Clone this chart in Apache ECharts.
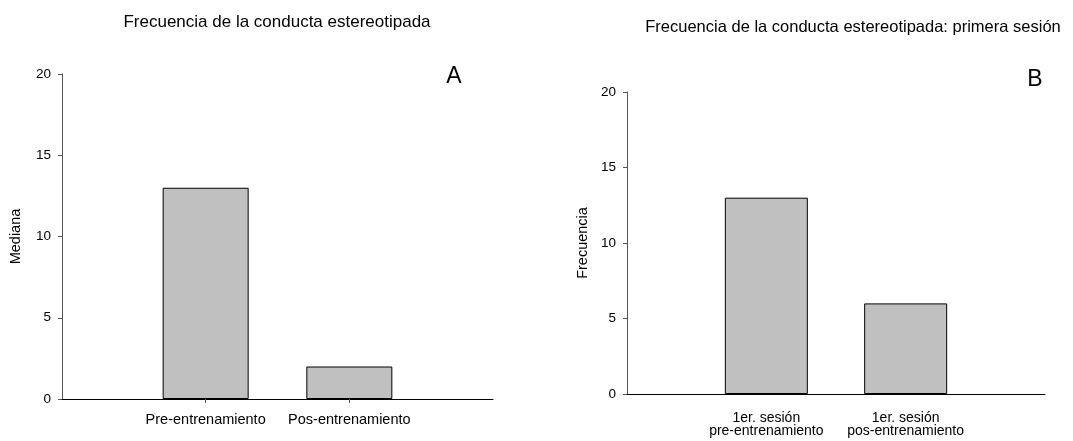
<!DOCTYPE html>
<html><head><meta charset="utf-8">
<script src="https://cdn.jsdelivr.net/npm/echarts@6/dist/echarts.min.js"></script>
<style>html,body{margin:0;padding:0;background:#fff}#c{width:1073px;height:441px}</style>
</head><body><div id="c"></div>
<script>
const categoriesA = ['', 'Pre-entrenamiento', 'Pos-entrenamiento', ''];
const valuesA = [null, 13, 2, null];
const categoriesB = ['', '1er. sesión\npre-entrenamiento', '1er. sesión\npos-entrenamiento', ''];
const valuesB = [null, 13, 6, null];
const yTicks = [0, 5, 10, 15, 20];

const font = 'Liberation Sans, Arial, sans-serif';
const chart = echarts.init(document.getElementById('c'));
function yAxis(gi, name) {
  return {
    type: 'value', gridIndex: gi, min: yTicks[0], max: yTicks[yTicks.length-1], interval: 5,
    name: name, nameLocation: 'middle', nameGap: gi === 0 ? 39 : 37, nameRotate: 90,
    nameTextStyle: {fontFamily: font, color: '#000', fontSize: 14.5},
    axisLine: {show: true, lineStyle: {color: '#555', width: 1}},
    axisTick: {show: true, length: 4, lineStyle: {color: '#555'}},
    axisLabel: {fontFamily: font, color: '#000', fontSize: 13.5, margin: 11},
    splitLine: {show: false}
  };
}
function xAxis(gi, cats, ticks) {
  return {
    type: 'category', gridIndex: gi, data: cats, boundaryGap: false,
    axisLine: {show: true, lineStyle: {color: '#000', width: 1}},
    axisTick: {show: ticks, length: 4, interval: (i) => i === 1 || i === 2, lineStyle: {color: '#555'}},
    axisLabel: {fontFamily: font, color: '#000', fontSize: gi === 0 ? 14.5 : 14, margin: gi === 0 ? 14 : 17,
      lineHeight: 13.5, interval: 0},
    splitLine: {show: false}
  };
}
chart.setOption({
  animation: false,
  title: [
    {text: 'Frecuencia de la conducta estereotipada', left: 272, top: 9, textAlign: 'center',
      textStyle: {fontFamily: font, fontWeight: 'normal', fontSize: 17, color: '#000'}},
    {text: 'Frecuencia de la conducta estereotipada: primera sesión', left: 848, top: 14, textAlign: 'center',
      textStyle: {fontFamily: font, fontWeight: 'normal', fontSize: 16.5, color: '#000'}},
    {text: 'A', left: 449, top: 60, textAlign: 'center',
      textStyle: {fontFamily: font, fontWeight: 'normal', fontSize: 23, color: '#000'}},
    {text: 'B', left: 1030, top: 63, textAlign: 'center',
      textStyle: {fontFamily: font, fontWeight: 'normal', fontSize: 23, color: '#000'}}
  ],
  grid: [
    {left: 62, right: 580, top: 74, bottom: 42},
    {left: 627, right: 28, top: 92, bottom: 47}
  ],
  xAxis: [xAxis(0, categoriesA, true), xAxis(1, categoriesB, false)],
  yAxis: [yAxis(0, 'Mediana'), yAxis(1, 'Frecuencia')],
  series: [
    {type: 'bar', xAxisIndex: 0, yAxisIndex: 0, data: valuesA, barWidth: 86,
      itemStyle: {color: '#c0c0c0', borderColor: '#000', borderWidth: 1}},
    {type: 'bar', xAxisIndex: 1, yAxisIndex: 1, data: valuesB, barWidth: 83,
      itemStyle: {color: '#c0c0c0', borderColor: '#000', borderWidth: 1}}
  ]
});
</script></body></html>
